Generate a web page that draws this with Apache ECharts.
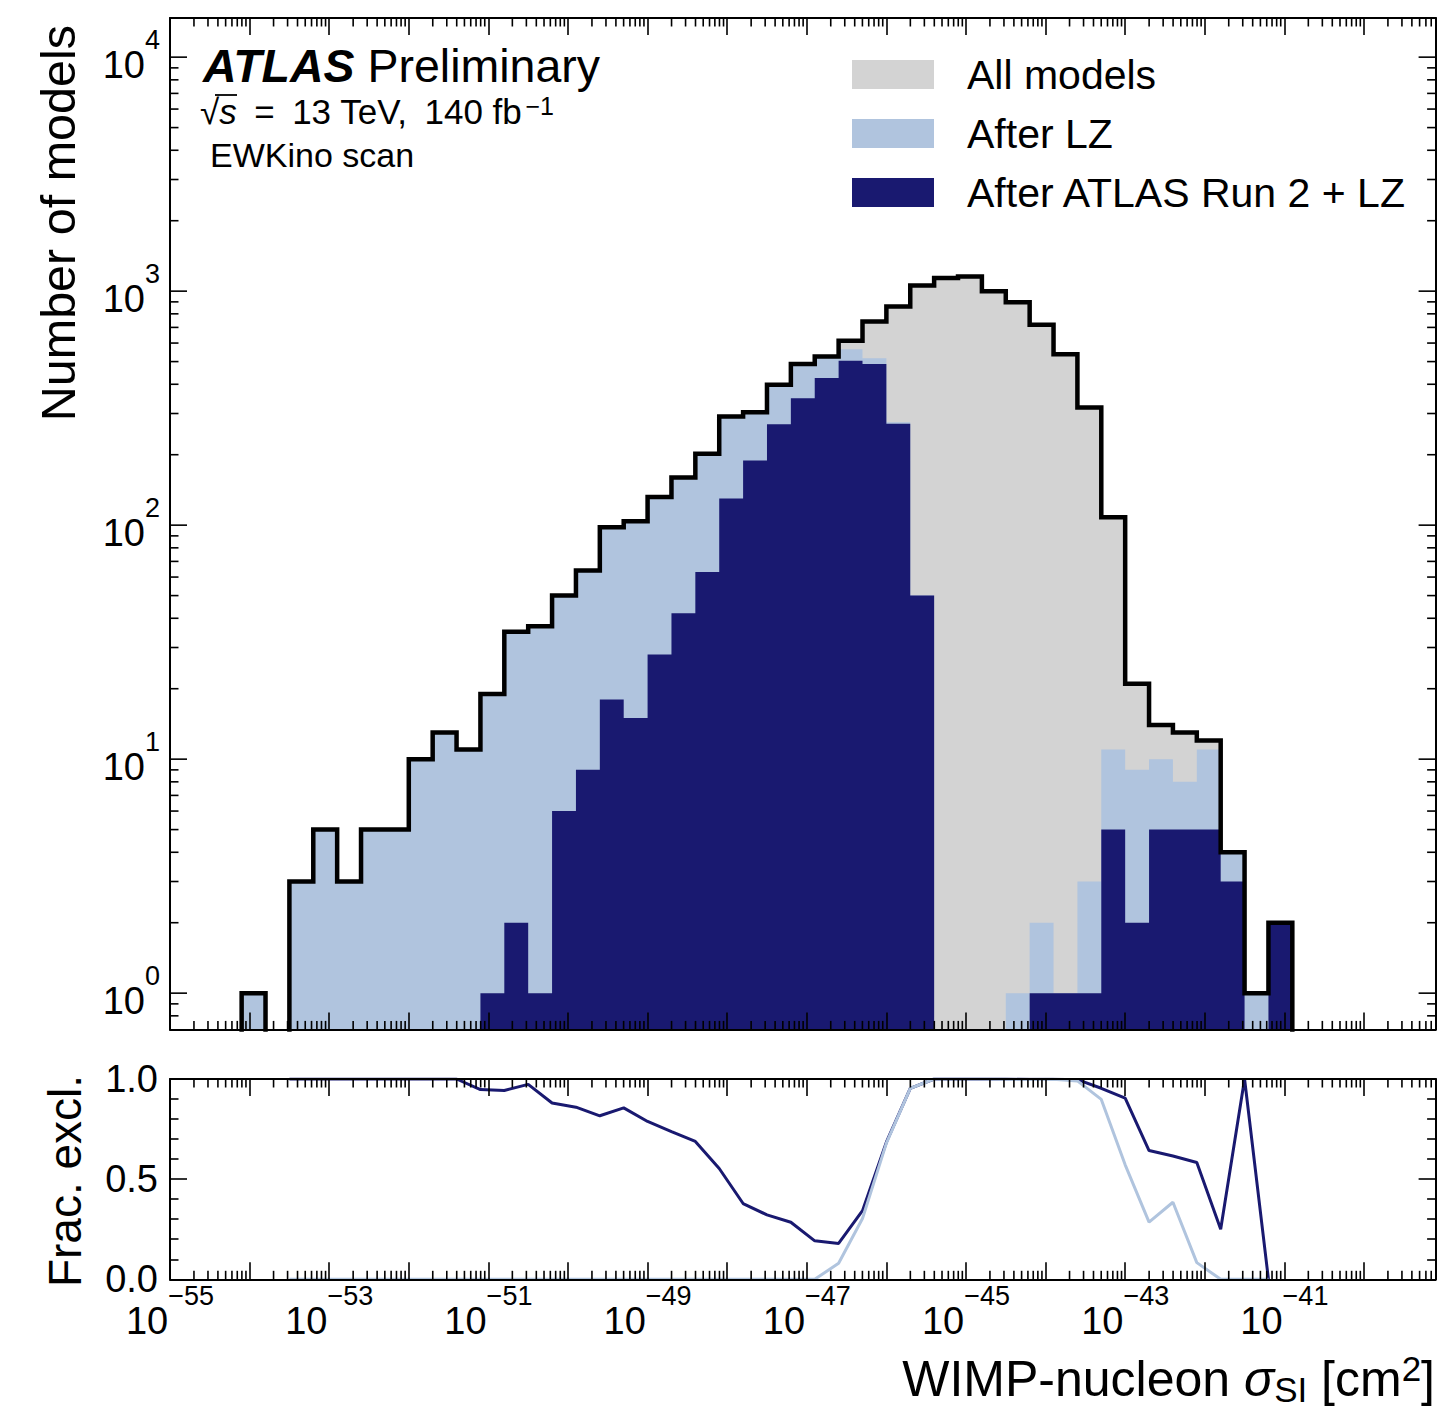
<!DOCTYPE html>
<html>
<head>
<meta charset="utf-8">
<title>WIMP-nucleon cross-section of EWKino models</title>
<script src="https://cdn.jsdelivr.net/npm/echarts@6/dist/echarts.min.js"></script>
<style>
  html, body { margin: 0; padding: 0; background: #fff; }
  #chart { width: 1450px; height: 1409px; }
</style>
</head>
<body>
<div id="chart"></div>
<script>
// Binning in log10(sigma_SI / cm^2): 0.3-decade bins starting at -54.1
const binLowEdge = -54.1;
const binWidth = 0.3;

// Number of models per bin
const allModels = [1, 0, 3, 5, 3, 5, 5, 10, 13, 11, 19, 35, 37, 50, 64, 98, 104, 132, 160, 202,
  291, 304, 398, 488, 526, 614, 742, 859, 1057, 1137, 1154, 1000, 897, 718, 538, 318, 108, 21,
  14, 13, 12, 4, 1, 2];
const afterLZ = [1, 0, 3, 5, 3, 5, 5, 10, 13, 11, 19, 35, 37, 50, 64, 98, 104, 132, 160, 202,
  291, 304, 398, 488, 526, 565, 517, 275, 50, 0, 0, 0, 1, 2, 1, 3, 11, 9,
  10, 8, 11, 4, 1, 2];
const afterATLAS = [0, 0, 0, 0, 0, 0, 0, 0, 0, 0, 1, 2, 1, 6, 9, 18, 15, 28, 42, 63,
  130, 189, 270, 349, 425, 504, 488, 271, 50, 0, 0, 0, 0, 1, 1, 1, 5, 2,
  5, 5, 5, 3, 0, 2];

// Tick label exponents on the axes
const xLabelExponents = [-55, -53, -51, -49, -47, -45, -43, -41];
const yLabelExponents = [0, 1, 2, 3, 4];

const FONT = '"Liberation Sans", Arial, Helvetica, sans-serif';
const C_ALL = '#d3d3d3';
const C_LZ = '#b0c4de';
const C_ATLAS = '#191970';

const xMin = -55, xMax = -39.1;
const yMin = Math.log10(0.7), yMax = Math.log10(14700);
const MAJOR = 17, MINOR = 8.5, TICK_W = 1.6;

const nBins = allModels.length;
const leftEdges = allModels.map((_, i) => binLowEdge + i * binWidth);
const rightEdge = binLowEdge + nBins * binWidth;
const belowAxis = yMin - 1;              // empty bins drop out of the plot area
const lg = c => (c > 0 ? Math.log10(c) : belowAxis);

// Step outline of a histogram, starting and ending on the baseline
function stepPoints(counts) {
  const pts = [[leftEdges[0], belowAxis]];
  counts.forEach((c, i) => pts.push([leftEdges[i], lg(c)]));
  pts.push([rightEdge, lg(counts[nBins - 1])]);
  pts.push([rightEdge, belowAxis]);
  return pts;
}
// Fraction of models excluded, placed at the lower bin edge
function excludedFraction(after) {
  return allModels.map((n, i) => [leftEdges[i], n > 0 ? 1 - after[i] / n : '-']);
}

// Log-decade minor tick positions inside a range
function logMinor(lo, hi) {
  const out = [];
  for (let d = Math.floor(lo) - 1; d <= Math.ceil(hi); d++) {
    for (let m = 2; m <= 9; m++) {
      const v = d + Math.log10(m);
      if (v > lo + 1e-6 && v < hi - 1e-6) out.push(v);
    }
  }
  return out;
}
const xMinor = logMinor(xMin, xMax);
const yTicksMain = yLabelExponents.map(v => [xMin, v, MAJOR])
  .concat(logMinor(yMin, yMax).map(v => [xMin, v, MINOR]));

const supRich = {
  b: { fontSize: 38, lineHeight: 58, verticalAlign: 'bottom', fontFamily: FONT, color: '#000' },
  s: { fontSize: 27, lineHeight: 20, verticalAlign: 'top', fontFamily: FONT, color: '#000' }
};
const powLabel = e => '{b|10}{s|' + (e < 0 ? '\u2212' + Math.abs(e) : String(e)) + '}';

function tickLine(x1, y1, x2, y2) {
  return { type: 'line', shape: { x1, y1, x2, y2 }, style: { stroke: '#000', lineWidth: TICK_W } };
}

function xAxisDef(gridIndex, position, withLabels) {
  return {
    type: 'value', gridIndex, position, min: xMin, max: xMax, interval: 1, z: 5,
    axisLine: { show: true, onZero: false, lineStyle: { color: '#000', width: 2 } },
    axisTick: { show: true, inside: true, length: MAJOR, lineStyle: { color: '#000', width: TICK_W } },
    splitLine: { show: false },
    axisLabel: withLabels ? {
      show: true, margin: 3,
      formatter: v => {
        const r = Math.round(v);
        return (Math.abs(v - r) < 1e-6 && xLabelExponents.indexOf(r) >= 0) ? powLabel(r) : '';
      },
      rich: supRich
    } : { show: false }
  };
}
function yMainDef(position) {
  return {
    type: 'value', gridIndex: 0, position, min: yMin, max: yMax, z: 5,
    axisLine: { show: true, onZero: false, lineStyle: { color: '#000', width: 2 } },
    axisTick: { show: false }, axisLabel: { show: false }, splitLine: { show: false }
  };
}
function yRatioDef(position, withLabels) {
  return {
    type: 'value', gridIndex: 1, position, min: 0, max: 1, interval: 0.5, z: 5,
    axisLine: { show: true, onZero: false, lineStyle: { color: '#000', width: 2 } },
    axisTick: { show: true, inside: true, length: MAJOR, lineStyle: { color: '#000', width: TICK_W } },
    minorTick: { show: true, splitNumber: 5, length: MINOR, lineStyle: { color: '#000', width: TICK_W } },
    splitLine: { show: false },
    axisLabel: withLabels ? {
      show: true, margin: 12, fontSize: 38, fontFamily: FONT, color: '#000',
      formatter: v => v.toFixed(1)
    } : { show: false }
  };
}

const option = {
  animation: false,
  grid: [
    { left: 170, top: 18, width: 1265.6, height: 1011.4 },
    { left: 170, top: 1079, width: 1265.6, height: 200.3 }
  ],
  xAxis: [xAxisDef(0, 'bottom', false), xAxisDef(0, 'top', false),
          xAxisDef(1, 'bottom', true), xAxisDef(1, 'top', false)],
  yAxis: [yMainDef('left'), yMainDef('right'), yRatioDef('left', true), yRatioDef('right', false)],
  legend: {
    orient: 'vertical', left: 852, top: 54, itemWidth: 82, itemHeight: 29, itemGap: 18,
    icon: 'rect', padding: 0, selectedMode: false,
    itemStyle: { borderWidth: 0 },
    textStyle: { fontSize: 41, fontFamily: FONT, color: '#000', padding: [0, 0, 0, 28] },
    data: ['All models', 'After LZ', 'After ATLAS Run 2 + LZ']
  },
  graphic: { elements: [
    { type: 'text', x: 203, y: 66, z: 10,
      style: { text: '{a|ATLAS}{p| Preliminary}', align: 'left', verticalAlign: 'middle',
        rich: { a: { fontSize: 46.5, fontWeight: 'bold', fontStyle: 'italic', fontFamily: FONT, color: '#000' },
                p: { fontSize: 46.5, fontFamily: FONT, color: '#000' } } } },
    { type: 'text', x: 200, y: 111, z: 10,
      style: { text: '{r|\u221A}{i|s}{t|\u2002=\u200213 TeV,\u2002140 fb}{u|\u22121}', align: 'left', verticalAlign: 'middle',
        rich: { r: { fontSize: 35, lineHeight: 36, verticalAlign: 'bottom', fontFamily: FONT, color: '#000' },
                i: { fontSize: 35, lineHeight: 36, verticalAlign: 'bottom', fontStyle: 'italic', fontFamily: FONT, color: '#000' },
                t: { fontSize: 35, lineHeight: 36, verticalAlign: 'bottom', fontFamily: FONT, color: '#000' },
                u: { fontSize: 25, lineHeight: 16, verticalAlign: 'top', fontFamily: FONT, color: '#000', padding: [0, 0, 0, 3] } } } },
    { type: 'line', z: 10, shape: { x1: 215, y1: 95, x2: 237, y2: 95 }, style: { stroke: '#000', lineWidth: 1.8 } },
    { type: 'text', x: 210, y: 155, z: 10,
      style: { text: 'EWKino scan', fontSize: 34, fontFamily: FONT, fill: '#000', align: 'left', verticalAlign: 'middle' } },
    { type: 'text', x: 58, y: 25, rotation: Math.PI / 2, z: 10,
      style: { text: 'Number of models', fontSize: 48.5, fontFamily: FONT, fill: '#000', align: 'right', verticalAlign: 'middle' } },
    { type: 'text', x: 65, y: 1181, rotation: Math.PI / 2, z: 10,
      style: { text: 'Frac. excl.', fontSize: 46, fontFamily: FONT, fill: '#000', align: 'center', verticalAlign: 'middle' } },
    { type: 'text', x: 1435, y: 1379, z: 10,
      style: { text: '{t|WIMP-nucleon }{g|\u03C3}{sub|SI}{t| [cm}{sup|2}{t|]}', align: 'right', verticalAlign: 'middle',
        rich: { t: { fontSize: 50, lineHeight: 56, verticalAlign: 'middle', fontFamily: FONT, color: '#000' },
                g: { fontSize: 50, lineHeight: 56, verticalAlign: 'middle', fontStyle: 'italic', fontFamily: FONT, color: '#000' },
                sub: { fontSize: 35, lineHeight: 16, verticalAlign: 'bottom', fontFamily: FONT, color: '#000' },
                sup: { fontSize: 35, lineHeight: 16, verticalAlign: 'top', fontFamily: FONT, color: '#000' } } } }
  ] },
  series: [
    { name: 'All models', type: 'line', xAxisIndex: 0, yAxisIndex: 0, data: stepPoints(allModels),
      step: 'end', symbol: 'none', silent: true, z: 2,
      itemStyle: { color: C_ALL }, lineStyle: { width: 0, opacity: 0 },
      areaStyle: { color: C_ALL, opacity: 1, origin: 'start' } },
    { name: 'After LZ', type: 'line', xAxisIndex: 0, yAxisIndex: 0, data: stepPoints(afterLZ),
      step: 'end', symbol: 'none', silent: true, z: 2,
      itemStyle: { color: C_LZ }, lineStyle: { width: 0, opacity: 0 },
      areaStyle: { color: C_LZ, opacity: 1, origin: 'start' } },
    { name: 'After ATLAS Run 2 + LZ', type: 'line', xAxisIndex: 0, yAxisIndex: 0, data: stepPoints(afterATLAS),
      step: 'end', symbol: 'none', silent: true, z: 2,
      itemStyle: { color: C_ATLAS }, lineStyle: { width: 0, opacity: 0 },
      areaStyle: { color: C_ATLAS, opacity: 1, origin: 'start' } },
    { type: 'line', xAxisIndex: 0, yAxisIndex: 0, data: stepPoints(allModels),
      step: 'end', symbol: 'none', silent: true, z: 3,
      lineStyle: { color: '#000', width: 4.5, join: 'miter' } },
    { type: 'line', xAxisIndex: 2, yAxisIndex: 2, data: excludedFraction(afterATLAS),
      symbol: 'none', silent: true, connectNulls: false, z: 3,
      itemStyle: { color: C_ATLAS }, lineStyle: { color: C_ATLAS, width: 3 } },
    { type: 'line', xAxisIndex: 2, yAxisIndex: 2, data: excludedFraction(afterLZ),
      symbol: 'none', silent: true, connectNulls: false, z: 3,
      itemStyle: { color: C_LZ }, lineStyle: { color: C_LZ, width: 3 } },
    // log minor ticks on the x axes of both panels
    { type: 'custom', xAxisIndex: 0, yAxisIndex: 0, z: 6, silent: true,
      data: xMinor.map(v => [v, yMin]),
      renderItem: (params, api) => {
        const v = api.value(0);
        const b = api.coord([v, yMin]), t = api.coord([v, yMax]);
        return { type: 'group', children: [tickLine(b[0], b[1], b[0], b[1] - MINOR), tickLine(t[0], t[1], t[0], t[1] + MINOR)] };
      } },
    { type: 'custom', xAxisIndex: 2, yAxisIndex: 2, z: 6, silent: true,
      data: xMinor.map(v => [v, 0]),
      renderItem: (params, api) => {
        const v = api.value(0);
        const b = api.coord([v, 0]), t = api.coord([v, 1]);
        return { type: 'group', children: [tickLine(b[0], b[1], b[0], b[1] - MINOR), tickLine(t[0], t[1], t[0], t[1] + MINOR)] };
      } },
    // log ticks on the y axes of the upper panel
    { type: 'custom', xAxisIndex: 0, yAxisIndex: 0, z: 6, silent: true,
      data: yTicksMain,
      renderItem: (params, api) => {
        const v = api.value(1), len = api.value(2);
        const l = api.coord([xMin, v]), r = api.coord([xMax, v]);
        return { type: 'group', children: [tickLine(l[0], l[1], l[0] + len, l[1]), tickLine(r[0], r[1], r[0] - len, r[1])] };
      } },
    // decade labels of the upper panel
    { type: 'custom', xAxisIndex: 0, yAxisIndex: 0, z: 6, silent: true,
      data: yLabelExponents.map(e => [xMin, e]),
      renderItem: (params, api) => {
        const e = api.value(1);
        const p = api.coord([xMin, e]);
        return { type: 'text', x: p[0] - 10, y: p[1] - 2,
          style: { text: powLabel(e), rich: supRich, align: 'right', verticalAlign: 'middle' } };
      } }
  ]
};

const chart = echarts.init(document.getElementById('chart'), null, { renderer: 'svg', width: 1450, height: 1409 });
chart.setOption(option);
</script>
</body>
</html>
